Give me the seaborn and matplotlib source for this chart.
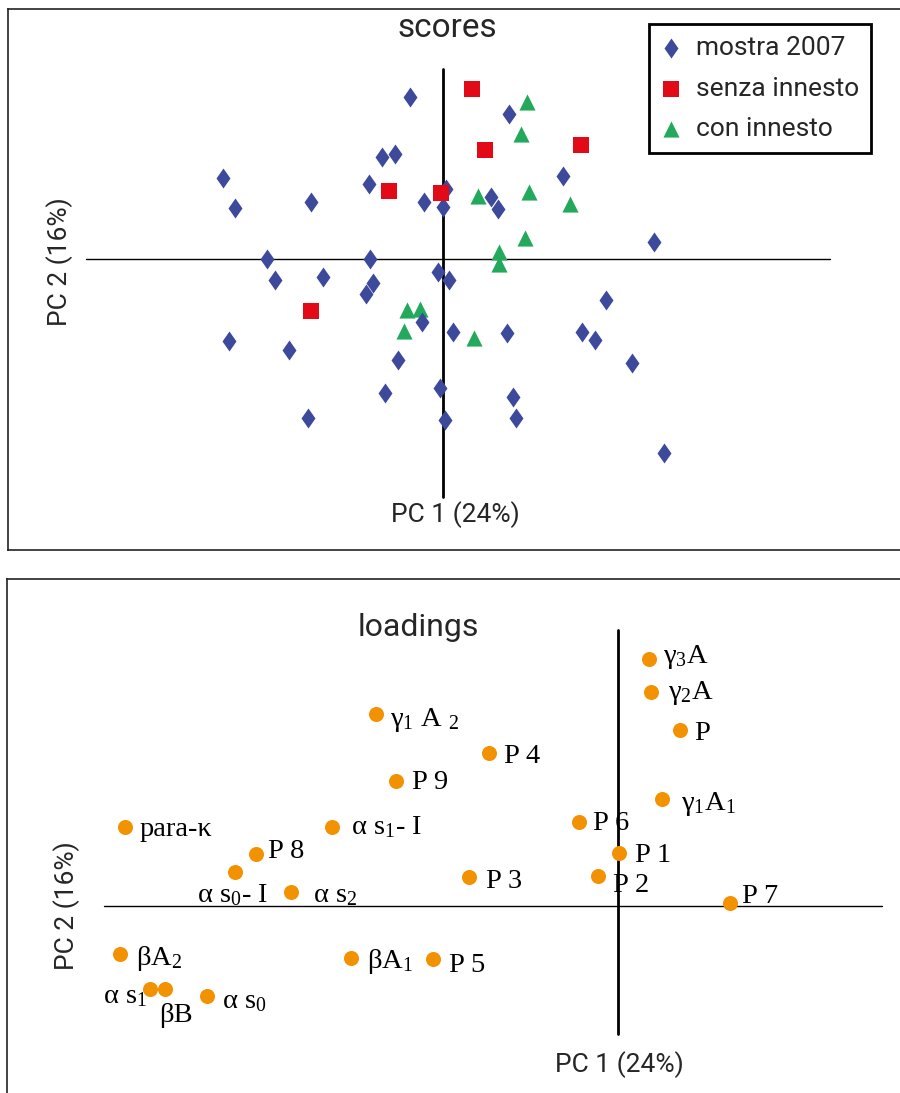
import numpy as np
import pandas as pd
import matplotlib
matplotlib.use("Agg")
import matplotlib.pyplot as plt
from matplotlib.path import Path
import seaborn as sns

# ---------------- scores (PC1, PC2) ----------------
mostra_pc1 = [-0.33, -0.61, -0.48, 0.66, -2.20, -2.08, -1.32, -0.74, -0.19, 0.03,
              0.00, 0.48, 0.55, 1.20, 2.11, -1.76, -0.73, -0.05, -1.68, -1.20,
              -0.70, -0.77, 0.06, 1.63, -0.21, 0.10, 0.64, 1.39, 1.52, -2.14,
              -1.54, -0.45, 1.89, -0.58, -0.03, 0.70, -1.35, 0.02, 0.73, 2.21]
mostra_pc2 = [1.62, 1.02, 1.05, 1.45, 0.81, 0.51, 0.57, 0.75, 0.57, 0.70,
              0.52, 0.62, 0.50, 0.83, 0.17, 0.00, 0.00, -0.13, -0.21, -0.18,
              -0.24, -0.35, -0.21, -0.41, -0.63, -0.73, -0.74, -0.73, -0.81, -0.82,
              -0.91, -1.01, -1.04, -1.34, -1.29, -1.38, -1.59, -1.61, -1.59, -1.94]

senza_pc1 = [0.29, 0.42, 1.38, -0.54, -0.02, -1.32]
senza_pc2 = [1.70, 1.09, 1.14, 0.68, 0.66, -0.52]

con_pc1 = [0.84, 0.78, 0.35, 0.86, 1.27, 0.82, 0.56, 0.56, -0.36, -0.23, -0.39, 0.31]
con_pc2 = [1.57, 1.25, 0.63, 0.67, 0.55, 0.21, 0.07, -0.05, -0.51, -0.50, -0.72, -0.79]

group_names = ["mostra 2007", "senza innesto", "con innesto"]

# ---------------- loadings (PC1, PC2) ----------------
load_names = ["γ$_3$A", "γ$_2$A", "P", "γ$_1$ A $_2$", "P 4", "P 9", "γ$_1$A$_1$",
              "para-κ", "α s$_1$- I", "P 6", "P 1", "P 8", "α s$_0$- I", "α s$_2$",
              "P 3", "P 2", "P 7", "βA$_2$", "βA$_1$", "P 5", "α s$_1$", "βB", "α s$_0$"]
load_pc1 = [0.31, 0.33, 0.62, -2.42, -1.29, -2.22, 0.44,
            -4.93, -2.86, -0.39, 0.01, -3.62, -3.83, -3.27,
            -1.49, -0.20, 1.12, -4.98, -2.67, -1.85, -4.68, -4.53, -4.11]
load_pc2 = [2.47, 2.14, 1.76, 1.92, 1.53, 1.25, 1.07,
            0.79, 0.79, 0.84, 0.53, 0.52, 0.34, 0.14,
            0.29, 0.30, 0.03, -0.48, -0.52, -0.53, -0.83, -0.83, -0.90]

# label placement: (dx px, baseline dy px below point, alignment)
label_place = [(14, 4, "left"), (17, 7, "left"), (14, 10, "left"), (14, 12, "left"),
               (15, 10, "left"), (16, 8, "left"), (19, 11, "left"), (15, 9, "left"),
               (19, 7, "left"), (14, 8, "left"), (16, 9, "left"), (12, 4, "left"),
               (-2, 30, "center"), (22, 10, "left"), (17, 11, "left"), (15, 16, "left"),
               (12, 0, "left"), (16, 11, "left"), (16, 10, "left"), (16, 13, "left"),
               (-3, 14, "right"), (11, 33, "center"), (15, 12, "left")]

# ---------------- styling ----------------
sns.set_style("white")
SANS = ["Roboto", "DejaVu Sans"]
SERIF = ["Liberation Serif", "DejaVu Serif"]
plt.rcParams["font.family"] = SANS
plt.rcParams["mathtext.fontset"] = "custom"
plt.rcParams["mathtext.rm"] = "Liberation Serif"
plt.rcParams["mathtext.it"] = "Liberation Serif"
plt.rcParams["mathtext.bf"] = "Liberation Serif:bold"

BLUE = "#3D4A9B"
RED = "#E30A17"
GREEN = "#22A95B"
ORANGE = "#F39200"
FRAME = "#222222"

W, H = 900, 1093
fig = plt.figure(figsize=(W / 100, H / 100), dpi=100)


def fig_box(left, top, right, bottom):
    return [left / W, 1 - bottom / H, (right - left) / W, (bottom - top) / H]


def style_frame(ax):
    ax.set_xticks([])
    ax.set_yticks([])
    ax.set_xlabel("")
    ax.set_ylabel("")
    for sp in ax.spines.values():
        sp.set_visible(True)
        sp.set_color(FRAME)
        sp.set_linewidth(1.2)
    ax.set_facecolor("white")


diamond = Path([(0, 1), (0.7, 0), (0, -1), (-0.7, 0), (0, 1)],
               [Path.MOVETO, Path.LINETO, Path.LINETO, Path.LINETO, Path.CLOSEPOLY])

# ================= scores panel =================
ax1 = fig.add_axes(fig_box(8, 9, 910, 550))
ax1.plot([-3.57, 3.87], [0, 0], color="black", lw=1.0, zorder=1)
ax1.plot([0, 0], [-2.38, 1.90], color="black", lw=2.0, zorder=1)

sns.scatterplot(x=con_pc1, y=con_pc2, marker="^", s=135, color=GREEN,
                linewidth=0, label=group_names[2], ax=ax1, zorder=3)
sns.scatterplot(x=mostra_pc1, y=mostra_pc2, marker=diamond, s=207, color=BLUE,
                linewidth=0, label=group_names[0], ax=ax1, zorder=4)
sns.scatterplot(x=senza_pc1, y=senza_pc2, marker="s", s=117, color=RED,
                linewidth=0, label=group_names[1], ax=ax1, zorder=5)

ax1.set_xlim(-4.35, 4.67)
ax1.set_ylim(-2.91, 2.50)
style_frame(ax1)

handles, labels = ax1.get_legend_handles_labels()
order = [labels.index(n) for n in group_names]
leg = ax1.legend([handles[i] for i in order], [labels[i] for i in order],
                 loc="upper left", bbox_to_anchor=(649 / W, 1 - 24 / H),
                 bbox_transform=fig.transFigure, frameon=True, fancybox=False,
                 edgecolor="black", framealpha=1, borderaxespad=0,
                 fontsize=19, handlelength=0.8, handletextpad=0.53,
                 borderpad=0.45, labelspacing=0.63)
leg.get_frame().set_linewidth(2.0)

fig.text(447 / W, 1 - 37 / H, "scores", ha="center", va="baseline", fontsize=24)
fig.text(455 / W, 1 - 515 / H, "PC 1 (24%)", ha="center", va="center", fontsize=19)
fig.text(60 / W, 1 - 262 / H, "PC 2 (16%)", ha="center", va="center",
         rotation=90, fontsize=19)

# ================= loadings panel =================
ax2 = fig.add_axes(fig_box(7, 579, 910, 1100))
ax2.plot([-5.14, 2.64], [0, 0], color="black", lw=1.0, zorder=1)
ax2.plot([0, 0], [-1.28, 2.76], color="black", lw=2.0, zorder=1)

load_df = pd.DataFrame({"PC1": load_pc1, "PC2": load_pc2, "name": load_names})
sns.scatterplot(data=load_df, x="PC1", y="PC2", marker="o", s=117, color=ORANGE,
                linewidth=0, ax=ax2, zorder=3, legend=False)

for x, y, name, (dx, dy, ha) in zip(load_pc1, load_pc2, load_names, label_place):
    ax2.annotate(name, (x, y), xytext=(dx * 0.72, -dy * 0.72),
                 textcoords="offset points", ha=ha, va="baseline",
                 fontsize=20.5, family=SERIF, color="black", zorder=4)

ax2.set_xlim(-6.11, 2.92)
ax2.set_ylim(-1.94, 3.27)
style_frame(ax2)

fig.text(418 / W, 1 - 636 / H, "loadings", ha="center", va="baseline", fontsize=23)
fig.text(619 / W, 1 - 1065 / H, "PC 1 (24%)", ha="center", va="center", fontsize=19)
fig.text(67 / W, 1 - 906 / H, "PC 2 (16%)", ha="center", va="center",
         rotation=90, fontsize=19)

fig.savefig("out.png", dpi=100, facecolor="white")
